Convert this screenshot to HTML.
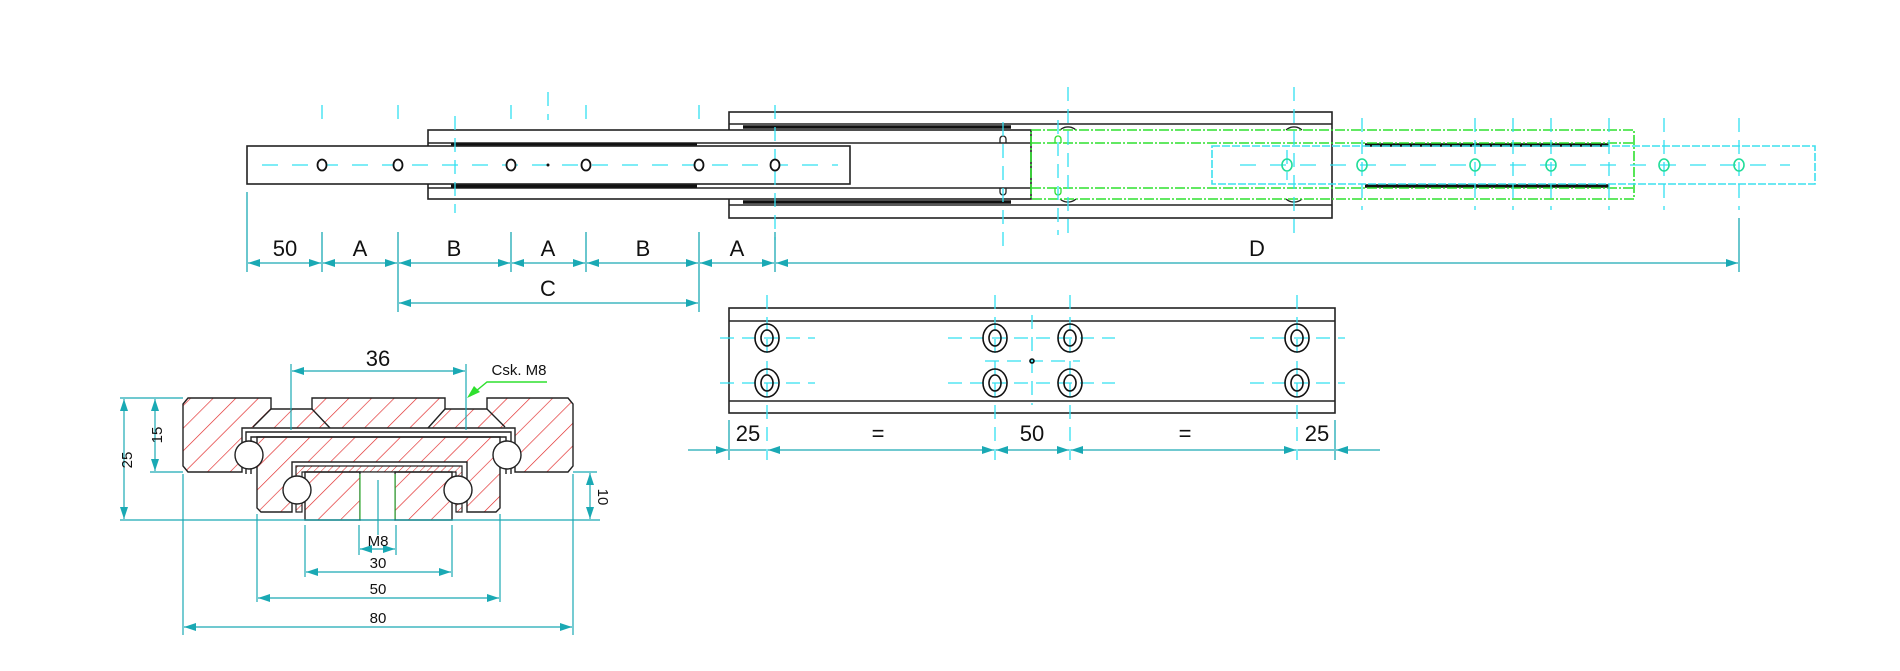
<!DOCTYPE html>
<html><head><meta charset="utf-8"><style>
html,body{margin:0;padding:0;background:#fff;}
svg{display:block;}
text{font-family:"Liberation Sans",sans-serif;fill:#111;}
</style></head><body>
<svg width="1900" height="671" viewBox="0 0 1900 671" xmlns="http://www.w3.org/2000/svg">
<defs>
<marker id="a" viewBox="0 0 12 8" refX="12" refY="4" markerWidth="12" markerHeight="8" markerUnits="userSpaceOnUse" orient="auto-start-reverse"><path d="M0,0 L12,4 L0,8 z" fill="#1aa9b4"/></marker>
<pattern id="h" width="16" height="16" patternUnits="userSpaceOnUse" patternTransform="rotate(45)"><line x1="0" y1="0" x2="0" y2="16" stroke="#e02525" stroke-width="1.3"/></pattern>
<pattern id="h2" width="5" height="5" patternUnits="userSpaceOnUse" patternTransform="rotate(45)"><line x1="0" y1="0" x2="0" y2="5" stroke="#e02525" stroke-width="1"/></pattern>
</defs>

<!-- ===== TOP VIEW ===== -->
<g fill="none" stroke="#222" stroke-width="1.6">
<rect x="729" y="112" width="603" height="106"/>
<line x1="729" y1="124" x2="1332" y2="124"/>
<line x1="729" y1="205" x2="1332" y2="205"/>
<rect x="428" y="130" width="603" height="69" fill="#fff"/>
<line x1="428" y1="143" x2="1031" y2="143"/>
<line x1="428" y1="188" x2="1031" y2="188"/>
</g>
<g stroke="#111" stroke-width="3.5">
<line x1="743" y1="127" x2="1011" y2="127"/>
<line x1="743" y1="202" x2="1011" y2="202"/>
<line x1="451" y1="145" x2="697" y2="145"/>
<line x1="451" y1="186" x2="697" y2="186"/>
<line x1="1365" y1="145" x2="1609" y2="145"/>
<line x1="1365" y1="186" x2="1609" y2="186"/>
</g>
<g fill="none" stroke="#222" stroke-width="1.3">
<path d="M1000,143 v-4 a3,3 0 0 1 6,0 v4"/>
<path d="M1000,188 v4 a3,3 0 0 0 6,0 v-4"/>
<path d="M1060,130 a12,12 0 0 1 16,0"/><path d="M1060,199 a12,12 0 0 0 16,0"/>
<path d="M1286,130 a12,12 0 0 1 16,0"/><path d="M1286,199 a12,12 0 0 0 16,0"/>
</g>
<rect x="247" y="146" width="603" height="38" fill="#fff" stroke="#222" stroke-width="1.6"/>
<g fill="none" stroke="#2ee02e" stroke-width="1.6" stroke-dasharray="10,2,2,2">
<rect x="1031" y="130" width="603" height="69"/>
<line x1="1031" y1="143" x2="1634" y2="143"/>
<line x1="1031" y1="188" x2="1634" y2="188"/>
</g>
<g fill="none" stroke="#2ee02e" stroke-width="1.3">
<path d="M1055,143 v-4 a3,3 0 0 1 6,0 v4"/>
<path d="M1055,188 v4 a3,3 0 0 0 6,0 v-4"/>
</g>
<rect x="1212" y="146" width="603" height="38" fill="none" stroke="#3de0ee" stroke-width="1.6" stroke-dasharray="8,2"/>
<g stroke="#33e0f0" stroke-width="1.3" fill="none">
<line x1="262" y1="165" x2="838" y2="165" stroke-dasharray="16,14"/>
<line x1="1240" y1="165" x2="1790" y2="165" stroke-dasharray="16,14"/>
<g stroke-dasharray="14,8">
<line x1="322" y1="105" x2="322" y2="120"/><line x1="398" y1="105" x2="398" y2="120"/>
<line x1="511" y1="105" x2="511" y2="120"/><line x1="548" y1="92" x2="548" y2="120"/>
<line x1="586" y1="105" x2="586" y2="120"/><line x1="699" y1="105" x2="699" y2="120"/>
<line x1="775" y1="105" x2="775" y2="240"/>
<line x1="455" y1="116" x2="455" y2="213"/>
<line x1="1003" y1="122" x2="1003" y2="248"/>
<line x1="1058" y1="120" x2="1058" y2="235"/>
<line x1="1068" y1="87" x2="1068" y2="233"/>
<line x1="1294" y1="87" x2="1294" y2="240"/>
<line x1="1362" y1="118" x2="1362" y2="210"/>
<line x1="1475" y1="118" x2="1475" y2="210"/>
<line x1="1513" y1="118" x2="1513" y2="210"/>
<line x1="1551" y1="118" x2="1551" y2="210"/>
<line x1="1609" y1="118" x2="1609" y2="210"/>
<line x1="1664" y1="118" x2="1664" y2="210"/>
<line x1="1739" y1="118" x2="1739" y2="210"/>
<line x1="1287" y1="150" x2="1287" y2="180"/>
</g>
</g>
<g fill="#fff" stroke="#111" stroke-width="1.8">
<ellipse cx="322" cy="165" rx="4.5" ry="5.5"/><ellipse cx="398" cy="165" rx="4.5" ry="5.5"/>
<ellipse cx="511" cy="165" rx="4.5" ry="5.5"/><ellipse cx="586" cy="165" rx="4.5" ry="5.5"/>
<ellipse cx="699" cy="165" rx="4.5" ry="5.5"/><ellipse cx="775" cy="165" rx="4.5" ry="5.5"/>
</g>
<circle cx="548" cy="165" r="1.5" fill="#111"/>
<g fill="none" stroke="#22dd99" stroke-width="1.6">
<ellipse cx="1287" cy="165" rx="5" ry="6"/><ellipse cx="1362" cy="165" rx="5" ry="6"/>
<ellipse cx="1475" cy="165" rx="5" ry="6"/><ellipse cx="1551" cy="165" rx="5" ry="6"/>
<ellipse cx="1664" cy="165" rx="5" ry="6"/><ellipse cx="1739" cy="165" rx="5" ry="6"/>
</g>
<g stroke="#1aa9b4" stroke-width="1.3" fill="none">
<line x1="247" y1="192" x2="247" y2="272"/>
<line x1="322" y1="232" x2="322" y2="272"/><line x1="398" y1="232" x2="398" y2="312"/>
<line x1="511" y1="232" x2="511" y2="272"/><line x1="586" y1="232" x2="586" y2="272"/>
<line x1="699" y1="232" x2="699" y2="312"/><line x1="775" y1="232" x2="775" y2="272"/>
<line x1="1739" y1="218" x2="1739" y2="272"/>
<g marker-start="url(#a)" marker-end="url(#a)">
<line x1="248" y1="263" x2="321" y2="263"/><line x1="323" y1="263" x2="397" y2="263"/>
<line x1="399" y1="263" x2="510" y2="263"/><line x1="512" y1="263" x2="585" y2="263"/>
<line x1="587" y1="263" x2="698" y2="263"/><line x1="700" y1="263" x2="774" y2="263"/>
<line x1="776" y1="263" x2="1738" y2="263"/>
<line x1="399" y1="303" x2="698" y2="303"/>
</g>
</g>
<g font-size="22" text-anchor="middle">
<text x="285" y="256">50</text><text x="360" y="256">A</text><text x="454" y="256">B</text>
<text x="548" y="256">A</text><text x="643" y="256">B</text><text x="737" y="256">A</text>
<text x="1257" y="256">D</text><text x="548" y="296">C</text>
</g>

<!-- ===== BOTTOM MIDDLE VIEW ===== -->
<g fill="none" stroke="#222" stroke-width="1.6">
<rect x="729" y="308" width="606" height="105"/>
<line x1="729" y1="321" x2="1335" y2="321"/>
<line x1="729" y1="401" x2="1335" y2="401"/>
</g>
<g stroke="#33e0f0" stroke-width="1.3" stroke-dasharray="14,8" fill="none">
<line x1="767" y1="295" x2="767" y2="460"/><line x1="995" y1="295" x2="995" y2="460"/>
<line x1="1070" y1="295" x2="1070" y2="460"/><line x1="1297" y1="295" x2="1297" y2="460"/>
<line x1="1032" y1="315" x2="1032" y2="405"/>
<line x1="720" y1="338" x2="815" y2="338"/><line x1="948" y1="338" x2="1115" y2="338"/><line x1="1250" y1="338" x2="1345" y2="338"/>
<line x1="720" y1="383" x2="815" y2="383"/><line x1="948" y1="383" x2="1115" y2="383"/><line x1="1250" y1="383" x2="1345" y2="383"/>
<line x1="985" y1="361" x2="1080" y2="361"/>
</g>
<g fill="none" stroke="#111" stroke-width="1.6">
<ellipse cx="767" cy="338" rx="12" ry="14"/><ellipse cx="767" cy="338" rx="6" ry="8"/>
<ellipse cx="767" cy="383" rx="12" ry="14"/><ellipse cx="767" cy="383" rx="6" ry="8"/>
<ellipse cx="995" cy="338" rx="12" ry="14"/><ellipse cx="995" cy="338" rx="6" ry="8"/>
<ellipse cx="995" cy="383" rx="12" ry="14"/><ellipse cx="995" cy="383" rx="6" ry="8"/>
<ellipse cx="1070" cy="338" rx="12" ry="14"/><ellipse cx="1070" cy="338" rx="6" ry="8"/>
<ellipse cx="1070" cy="383" rx="12" ry="14"/><ellipse cx="1070" cy="383" rx="6" ry="8"/>
<ellipse cx="1297" cy="338" rx="12" ry="14"/><ellipse cx="1297" cy="338" rx="6" ry="8"/>
<ellipse cx="1297" cy="383" rx="12" ry="14"/><ellipse cx="1297" cy="383" rx="6" ry="8"/>
<circle cx="1032" cy="361" r="2"/>
</g>
<g stroke="#1aa9b4" stroke-width="1.3" fill="none">
<line x1="729" y1="420" x2="729" y2="460"/><line x1="1335" y1="420" x2="1335" y2="460"/>
<line x1="688" y1="450" x2="728" y2="450" marker-end="url(#a)"/>
<line x1="1380" y1="450" x2="1336" y2="450" marker-end="url(#a)"/>
<line x1="730" y1="450" x2="766" y2="450"/>
<g marker-start="url(#a)" marker-end="url(#a)">
<line x1="768" y1="450" x2="994" y2="450"/><line x1="996" y1="450" x2="1069" y2="450"/>
<line x1="1071" y1="450" x2="1296" y2="450"/>
</g>
<line x1="1298" y1="450" x2="1334" y2="450"/>
</g>
<g font-size="22" text-anchor="middle">
<text x="748" y="441">25</text><text x="878" y="441">=</text><text x="1032" y="441">50</text>
<text x="1185" y="441">=</text><text x="1317" y="441">25</text>
</g>

<!-- ===== CROSS SECTION ===== -->
<path d="M188,398 H271 V409 H312 V398 H445 V409 H487 V398 H568 L573,404 V466 L568,472 H515 V428 H242 V472 H188 L183,466 V404 Z" fill="url(#h)" stroke="#222" stroke-width="1.4"/>
<path d="M271,409 L253,427 M312,409 L330,428 M445,409 L428,428 M487,409 L505,427" fill="none" stroke="#222" stroke-width="1.4"/>
<path d="M246,474 V432 H511 V474" fill="none" stroke="#222" stroke-width="1.4"/>
<path d="M251,474 V437 H506 V474" fill="none" stroke="#222" stroke-width="1.4"/>
<path d="M257,437 H500 V508 L496,512 H467 V462 H292 V512 H261 L257,508 Z" fill="url(#h)" stroke="#222" stroke-width="1.4"/>
<path d="M296,512 V466 H462 V512 H456 V472 H302 V512 Z" fill="url(#h2)" stroke="#222" stroke-width="1.2"/>
<path d="M305,472 H360 V520 H305 Z M395,472 H452 V520 H395 Z" fill="url(#h)" stroke="#222" stroke-width="1.4"/>
<rect x="360" y="472" width="35" height="48" fill="#fff" stroke="#222" stroke-width="1.2"/>
<line x1="360" y1="474" x2="360" y2="519" stroke="#3ec83e" stroke-width="1"/>
<line x1="395" y1="474" x2="395" y2="519" stroke="#3ec83e" stroke-width="1"/>
<g fill="#fff" stroke="#222" stroke-width="1.4">
<circle cx="249" cy="455" r="14"/><circle cx="507" cy="455" r="14"/>
<circle cx="297" cy="490" r="14"/><circle cx="458" cy="490" r="14"/>
</g>
<g stroke="#1aa9b4" stroke-width="1.2" fill="none">
<line x1="291" y1="364" x2="291" y2="430"/><line x1="466" y1="364" x2="466" y2="430"/>
<line x1="292" y1="371" x2="465" y2="371" marker-start="url(#a)" marker-end="url(#a)"/>
<line x1="120" y1="398" x2="183" y2="398"/><line x1="120" y1="520" x2="600" y2="520"/>
<line x1="150" y1="472" x2="183" y2="472"/><line x1="573" y1="472" x2="597" y2="472"/>
<line x1="124" y1="399" x2="124" y2="519" marker-start="url(#a)" marker-end="url(#a)"/>
<line x1="155" y1="399" x2="155" y2="471" marker-start="url(#a)" marker-end="url(#a)"/>
<line x1="590" y1="473" x2="590" y2="519" marker-start="url(#a)" marker-end="url(#a)"/>
<line x1="183" y1="474" x2="183" y2="635"/><line x1="573" y1="474" x2="573" y2="635"/>
<line x1="257" y1="514" x2="257" y2="602"/><line x1="500" y1="514" x2="500" y2="602"/>
<line x1="305" y1="525" x2="305" y2="577"/><line x1="452" y1="525" x2="452" y2="577"/>
<line x1="359" y1="525" x2="359" y2="555"/><line x1="396" y1="525" x2="396" y2="555"/>
<line x1="378" y1="480" x2="378" y2="535"/>
<line x1="360" y1="549" x2="395" y2="549" marker-start="url(#a)" marker-end="url(#a)"/>
<line x1="306" y1="572" x2="451" y2="572" marker-start="url(#a)" marker-end="url(#a)"/>
<line x1="258" y1="598" x2="499" y2="598" marker-start="url(#a)" marker-end="url(#a)"/>
<line x1="184" y1="627" x2="572" y2="627" marker-start="url(#a)" marker-end="url(#a)"/>
</g>
<path d="M547,382 H487 L470,396" fill="none" stroke="#2ee02e" stroke-width="1.4"/>
<path d="M467,398 L474,386 L480,392 Z" fill="#2ee02e"/>
<g text-anchor="middle">
<text x="378" y="366" font-size="22">36</text>
<text x="519" y="375" font-size="15">Csk. M8</text>
<text x="378" y="546" font-size="15">M8</text>
<text x="378" y="568" font-size="15">30</text>
<text x="378" y="594" font-size="15">50</text>
<text x="378" y="623" font-size="15">80</text>
<text font-size="15" transform="translate(132,460) rotate(-90)">25</text>
<text font-size="15" transform="translate(162,435) rotate(-90)">15</text>
<text font-size="15" transform="translate(598,497) rotate(90)">10</text>
</g>
</svg>
</body></html>
